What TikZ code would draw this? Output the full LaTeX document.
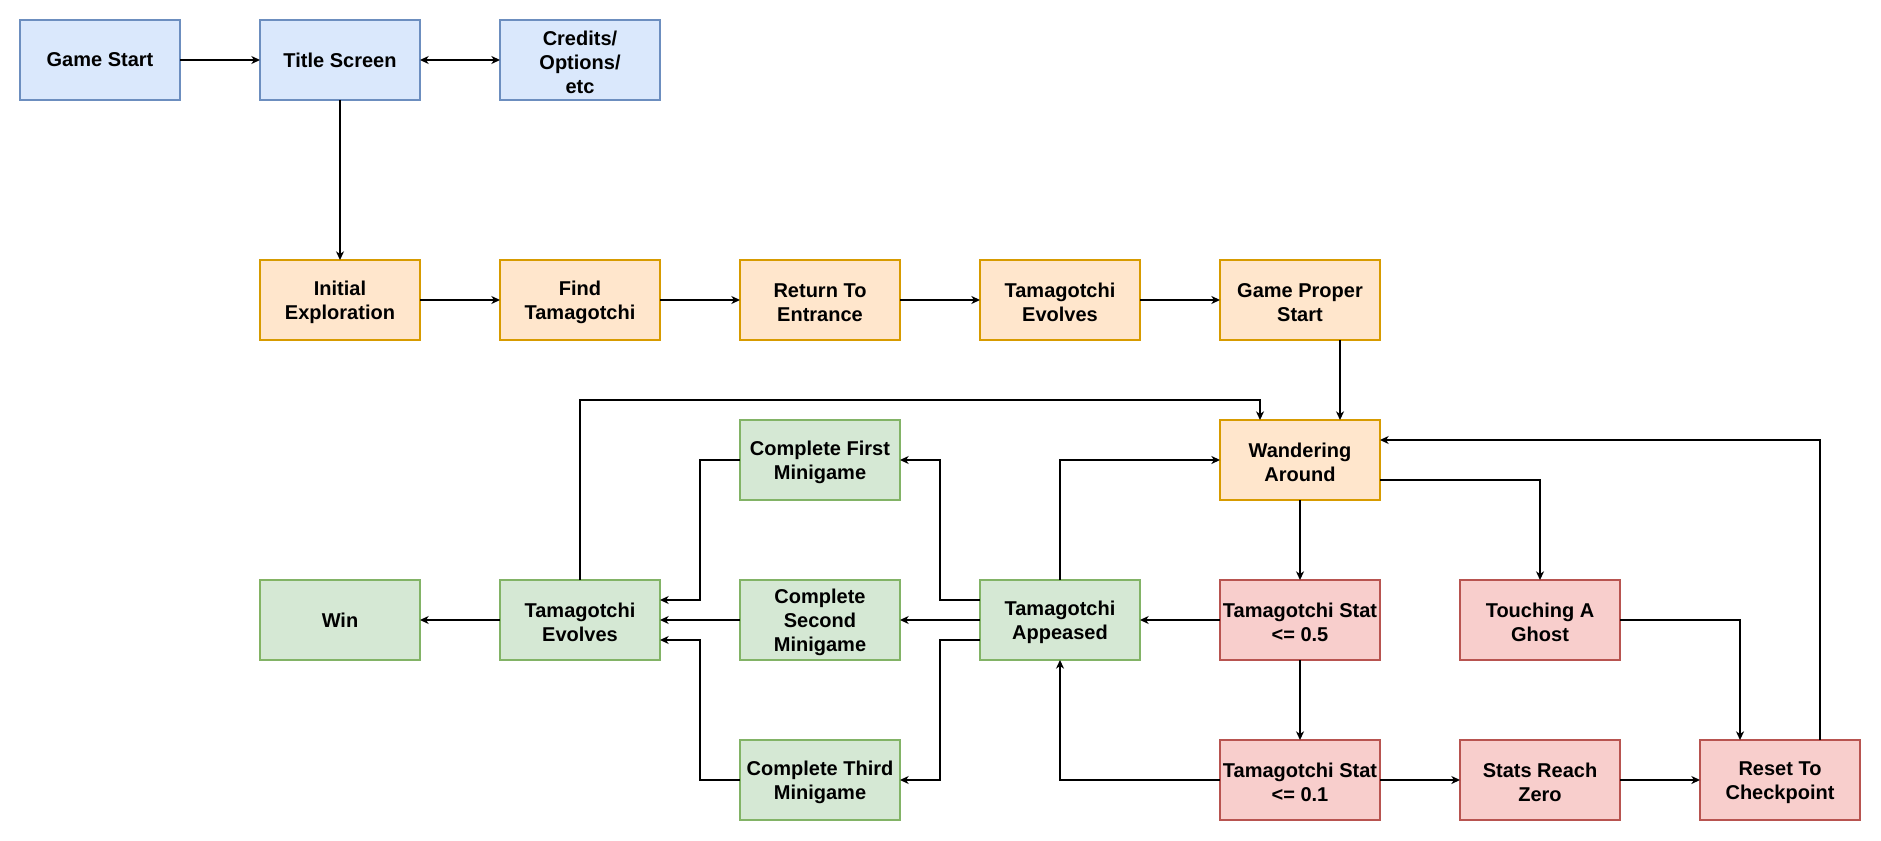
\documentclass[tikz,border=0pt]{standalone}
\usepackage{fontspec}
\setmainfont{Liberation Sans}
\usetikzlibrary{arrows.meta}
\definecolor{bfill}{HTML}{DAE8FC}\definecolor{bline}{HTML}{6C8EBF}
\definecolor{ofill}{HTML}{FFE6CC}\definecolor{oline}{HTML}{D79B00}
\definecolor{gfill}{HTML}{D5E8D4}\definecolor{gline}{HTML}{82B366}
\definecolor{rfill}{HTML}{F8CECC}\definecolor{rline}{HTML}{B85450}
\newcommand\topstrut{\rule{0pt}{14.5pt}}
\tikzset{
  box/.style={rectangle, minimum width=120pt, minimum height=60pt, inner sep=0pt, outer sep=0pt,
    align=center, line width=1pt, font=\fontsize{15}{18}\selectfont\bfseries},
  bluebox/.style={box, fill=bfill, draw=bline},
  orangebox/.style={box, fill=ofill, draw=oline},
  greenbox/.style={box, fill=gfill, draw=gline},
  redbox/.style={box, fill=rfill, draw=rline},
  arr/.style={line width=1pt, -{Stealth[length=6.5pt,width=6pt,inset=2pt]}},
  darr/.style={line width=1pt, {Stealth[length=6.5pt,width=6pt,inset=2pt]}-{Stealth[length=6.5pt,width=6pt,inset=2pt]}}
}
\begin{document}
\begin{tikzpicture}[x=0.75pt,y=-0.75pt]
\useasboundingbox (0,0) rectangle (1881,841);
\node[bluebox] (gs) at (100,60) {Game Start};
\node[bluebox] (ts) at (340,60) {Title Screen};
\node[bluebox] (cr) at (580,60) {\topstrut Credits/\\Options/\\etc};
\node[orangebox] (ie) at (340,300) {\topstrut Initial\\Exploration};
\node[orangebox] (ft) at (580,300) {\topstrut Find\\Tamagotchi};
\node[orangebox] (re) at (820,300) {\topstrut Return To\\Entrance};
\node[orangebox] (te1) at (1060,300) {\topstrut Tamagotchi\\Evolves};
\node[orangebox] (gp) at (1300,300) {\topstrut Game Proper\\Start};
\node[greenbox] (c1) at (820,460) {\topstrut Complete First\\Minigame};
\node[orangebox] (wa) at (1300,460) {\topstrut Wandering\\Around};
\node[greenbox] (win) at (340,620) {Win};
\node[greenbox] (te2) at (580,620) {\topstrut Tamagotchi\\Evolves};
\node[greenbox] (c2) at (820,620) {\topstrut Complete\\Second\\Minigame};
\node[greenbox] (ta) at (1060,620) {\topstrut Tamagotchi\\Appeased};
\node[redbox] (s5) at (1300,620) {\topstrut Tamagotchi Stat\\<= 0.5};
\node[redbox] (tg) at (1540,620) {\topstrut Touching A\\Ghost};
\node[greenbox] (c3) at (820,780) {\topstrut Complete Third\\Minigame};
\node[redbox] (s1) at (1300,780) {\topstrut Tamagotchi Stat\\<= 0.1};
\node[redbox] (sz) at (1540,780) {\topstrut Stats Reach\\Zero};
\node[redbox] (rc) at (1780,780) {\topstrut Reset To\\Checkpoint};

\draw[arr] (gs) -- (ts);
\draw[darr] (ts) -- (cr);
\draw[arr] (ts) -- (ie);
\draw[arr] (ie) -- (ft);
\draw[arr] (ft) -- (re);
\draw[arr] (re) -- (te1);
\draw[arr] (te1) -- (gp);
\draw[arr] ([xshift=30pt]gp.south) -- ([xshift=30pt]wa.north);
\draw[arr] (te2.north) |- ([xshift=-30pt,yshift=15pt]wa.north) -- ([xshift=-30pt]wa.north);
\draw[arr] (wa) -- (s5);
\draw[arr] ([yshift=-15pt]wa.east) -| (tg.north);
\draw[arr] (s5) -- (s1);
\draw[arr] (s1) -- (sz);
\draw[arr] (sz) -- (rc);
\draw[arr] (tg.east) -| ([xshift=-30pt]rc.north);
\draw[arr] ([xshift=30pt]rc.north) |- ([yshift=15pt]wa.east);
\draw[arr] (s5) -- (ta);
\draw[arr] (s1.west) -| (ta.south);
\draw[arr] (ta.north) |- (wa.west);
\draw[arr] ([yshift=15pt]ta.west) -- ++(-30pt,0) |- (c1.east);
\draw[arr] (ta) -- (c2);
\draw[arr] ([yshift=-15pt]ta.west) -- ++(-30pt,0) |- (c3.east);
\draw[arr] (c1.west) -- ++(-30pt,0) |- ([yshift=15pt]te2.east);
\draw[arr] (c2) -- (te2);
\draw[arr] (c3.west) -- ++(-30pt,0) |- ([yshift=-15pt]te2.east);
\draw[arr] (te2) -- (win);
\end{tikzpicture}
\end{document}
